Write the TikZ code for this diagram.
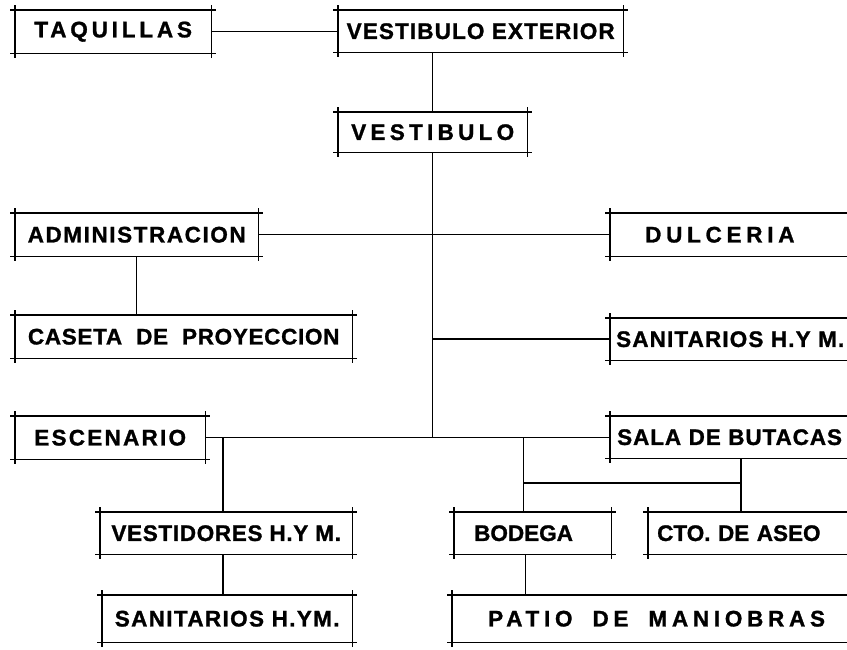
\documentclass[tikz,border=0pt]{standalone}
\usepackage{fontspec}
\usepackage{tikz}
\usetikzlibrary{positioning, calc}
\newfontfamily\lblfam{Liberation Sans}[FakeBold=1.2]
\newcommand\lbl{\lblfam\bfseries\fontsize{22.5}{22.5}\selectfont}
\newcommand\gap[1]{\hspace{#1pt}}
\tikzset{
    room/.style={inner sep=0pt, anchor=north west, minimum height=43pt},
    openroom/.style={room, text width=420pt, align=left, inner xsep=#1},
    ls/.style={font={\lbl\addfontfeatures{LetterSpace=#1}}},
    wall/.style={line width=1.5pt},
    wire/.style={line width=1.5pt}
}
\begin{document}
\begin{tikzpicture}[x=1pt, y=-1pt]
    \useasboundingbox (0,0) rectangle (847,649);
    \clip (0,0) rectangle (847,649);
    \node[room, minimum width=196pt, ls=17] (taq) at (15,10) {TAQUILLAS};
    \node[room, minimum width=285pt, minimum height=42pt, ls=5] (vext) at (338,10) {VESTIBULO EXTERIOR};
    \node[room, minimum width=189pt, minimum height=40pt, ls=19] (vest) at (338,112) {VESTIBULO};
    \node[room, minimum width=243pt, ls=7] (admin) at (15,213) {ADMINISTRACION};
    \node[openroom=35pt, ls=21] (dulc) at (610,213) {DULCERIA};
    \node[room, minimum width=337pt, ls=3] (cas) at (15,315) {CASETA\gap{14}DE\gap{14}PROYECCION};
    \node[openroom=6pt, minimum height=42pt, ls=5] (sanr) at (610,318) {SANITARIOS H.Y M.};
    \node[room, minimum width=190pt, ls=10] (esc) at (15,416) {ESCENARIO};
    \node[openroom=7pt, minimum height=42pt, ls=4] (sala) at (610,416) {SALA DE BUTACAS};
    \node[room, minimum width=252pt, minimum height=42pt, ls=3] (vtd) at (100,512) {VESTIDORES H.Y M.};
    \node[room, text width=117pt, align=left, inner xsep=20pt, minimum height=42pt, ls=0] (bod) at (454,512) {BODEGA};
    \node[openroom=9pt, minimum height=42pt, ls=0] (cto) at (648,512) {CTO. DE ASEO};
    \node[room, minimum width=250pt, minimum height=47pt, ls=6] (sanl) at (102,595) {SANITARIOS H.YM.};
    \node[openroom=36pt, minimum height=47pt, ls=21] (patio) at (452,595) {PATIO\gap{20}DE\gap{20}MANIOBRAS};

    \foreach \n in {taq,vext,vest,admin,dulc,cas,sanr,esc,sala,vtd,bod,cto,sanl,patio}{
        \draw[wall] ([xshift=-5pt]\n.north west) -- ([xshift=5pt]\n.north east);
        \draw[wall] ([xshift=-5pt]\n.south west) -- ([xshift=5pt]\n.south east);
        \draw[wall] ([yshift=5pt]\n.north west) -- ([yshift=-5pt]\n.south west);
        \draw[wall] ([yshift=5pt]\n.north east) -- ([yshift=-5pt]\n.south east);
    }

    \coordinate (jc) at (741,483);
    \draw[wire] (taq.east) -- (taq.east -| vext.west);
    \draw[wire] (vest.north |- vext.south) -- (vest.north);
    \draw[wire] (vest.south) -- (vest.south |- esc.east);
    \draw[wire] (admin.east) -- (admin.east -| dulc.west);
    \draw[wire] (admin.south) -- (admin.south |- cas.north);
    \draw[wire] (vest.south |- sanr.west) -- (sanr.west);
    \draw[wire] (esc.east) -- (esc.east -| sala.west);
    \draw[wire] ([xshift=-3pt]vtd.north |- esc.east) -- ([xshift=-3pt]vtd.north);
    \draw[wire] ([xshift=-3pt]vtd.south) -- ([xshift=-3pt]sanl.north -| vtd.south);
    \draw[wire] ([xshift=-9pt]bod.north |- sala.west) -- ([xshift=-9pt]bod.north);
    \draw[wire] ([xshift=-9pt]bod.north |- jc) -- (jc);
    \draw[wire] (sala.south -| jc) -- (cto.north -| jc);
    \draw[wire] ([xshift=-7pt]bod.south) -- ([xshift=-7pt]bod.south |- patio.north);
\end{tikzpicture}
\end{document}
